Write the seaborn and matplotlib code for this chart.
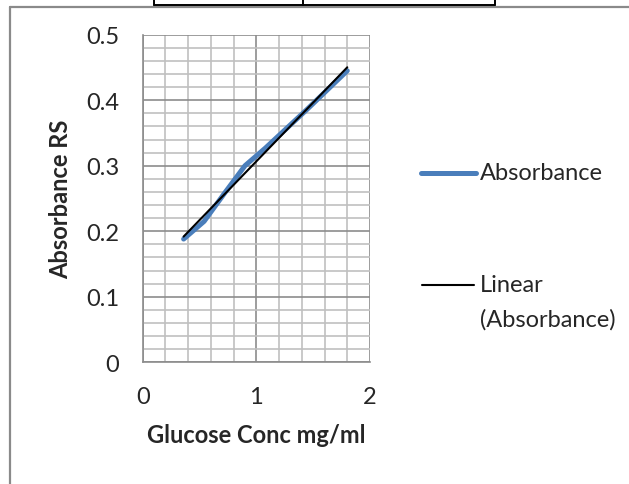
import numpy as np
import pandas as pd
import seaborn as sns
import matplotlib
matplotlib.use("Agg")
import matplotlib.pyplot as plt
from matplotlib.lines import Line2D
from matplotlib.ticker import MultipleLocator

# Standard curve readings
glucose_conc = [0.36, 0.54, 0.72, 0.90, 1.08, 1.26, 1.44, 1.62, 1.80]
absorbance = [0.188, 0.215, 0.258, 0.300, 0.327, 0.356, 0.385, 0.415, 0.445]
series_label = "Absorbance"
trend_label = "Linear\n(Absorbance)"
x_ticks = [0, 1, 2]
y_ticks = [0, 0.1, 0.2, 0.3, 0.4, 0.5]

df = pd.DataFrame({"conc": glucose_conc, "abs": absorbance})

sns.set_style("white")
plt.rcParams["font.family"] = ["Lato", "DejaVu Sans"]

W, H = 629, 485
fig = plt.figure(figsize=(W / 100, H / 100), dpi=100)
FS = 17


def fx(px):
    return px / W


def fy(py):
    return 1 - py / H


ax = fig.add_axes([fx(142.7), fy(363.2), fx(370) - fx(142.7), fy(35.7) - fy(363.2)])

blue = "#4A7EBB"
sns.lineplot(data=df, x="conc", y="abs", ax=ax, color=blue, linewidth=3.6,
             solid_capstyle="round", zorder=3)
sns.regplot(data=df, x="conc", y="abs", ax=ax, scatter=False, ci=None,
            truncate=True, color="black", line_kws={"linewidth": 1.5, "zorder": 4})

ax.set_xlim(0, 2)
ax.set_ylim(0, 0.5)
ax.set_xticks(x_ticks)
ax.set_yticks(y_ticks)
ax.set_xticklabels([str(t) for t in x_ticks])
ax.set_yticklabels(["0" if t == 0 else f"{t:.1f}" for t in y_ticks])
ax.xaxis.set_minor_locator(MultipleLocator(0.2))
ax.yaxis.set_minor_locator(MultipleLocator(0.02))

ax.grid(which="major", color="#8C8C8C", linewidth=1.2, zorder=1)
ax.grid(which="minor", color="#C0C0C0", linewidth=1.2, zorder=1)
ax.set_axisbelow(True)

for side in ["top", "right"]:
    ax.spines[side].set_visible(False)
for side in ["left", "bottom"]:
    ax.spines[side].set_color("#8C8C8C")
    ax.spines[side].set_linewidth(1.2)

ax.tick_params(axis="both", which="major", direction="out", length=5,
               width=1.2, color="#8C8C8C", labelsize=FS, pad=12)
ax.tick_params(axis="x", which="major", pad=12)
ax.tick_params(axis="both", which="minor", length=0)

ax.set_xlabel("Glucose Conc mg/ml", fontsize=FS, fontweight="bold", labelpad=12)
ax.set_ylabel("Absorbance RS", fontsize=FS, fontweight="bold", labelpad=10)

# Legend entries to the right of the plot
fig.add_artist(Line2D([fx(421), fx(476)], [fy(174), fy(174)], color=blue,
                      linewidth=3.6, solid_capstyle="round"))
fig.text(fx(480), fy(174), series_label, fontsize=FS, va="center", ha="left")
fig.add_artist(Line2D([fx(422), fx(474)], [fy(286), fy(286)], color="black",
                      linewidth=1.5))
fig.text(fx(480), fy(286), trend_label.split("\n")[0], fontsize=FS, va="center", ha="left")
fig.text(fx(480), fy(320), trend_label.split("\n")[1], fontsize=FS, va="center", ha="left")

# Chart frame and table edge above it
frame = "#8A8A8A"
fig.add_artist(Line2D([fx(10), fx(10)], [fy(8), 0], color=frame, linewidth=1.6))
fig.add_artist(Line2D([fx(10), 1], [fy(8), fy(8)], color=frame, linewidth=1.6))
fig.add_artist(Line2D([fx(153.6), fx(494.6)], [fy(6), fy(6)], color="black", linewidth=1.4))
for px in [153.6, 303, 494.6]:
    fig.add_artist(Line2D([fx(px), fx(px)], [1, fy(6)], color="black", linewidth=1.4))

fig.savefig("out.png", dpi=100)
